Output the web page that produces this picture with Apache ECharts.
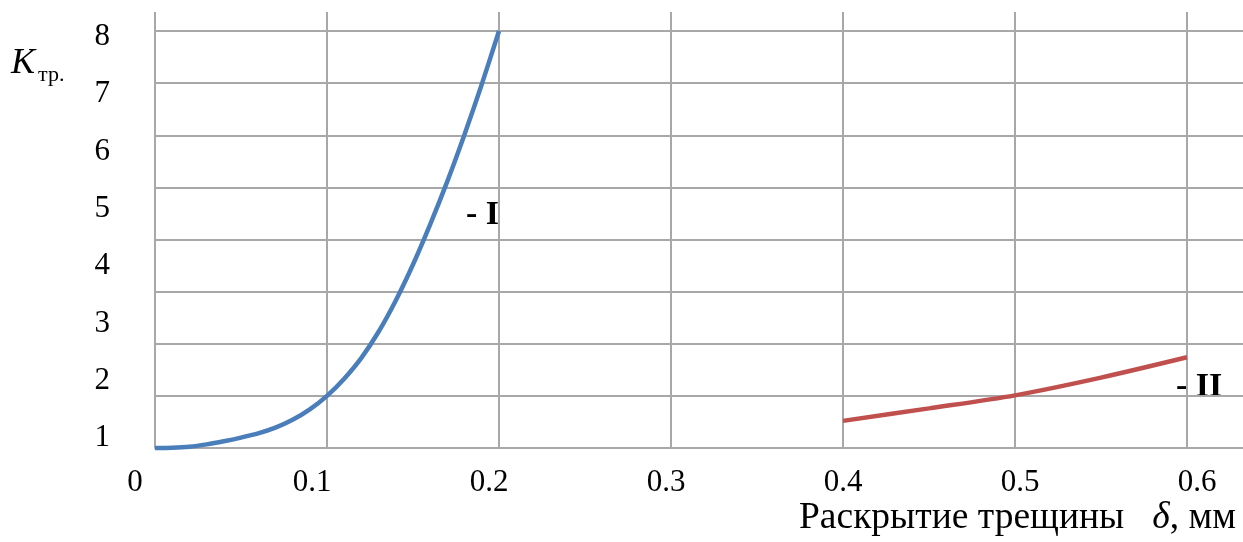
<!DOCTYPE html>
<html><head><meta charset="utf-8">
<script src="https://cdn.jsdelivr.net/npm/echarts@6/dist/echarts.min.js"></script>
<style>html,body{margin:0;padding:0;background:#fff}#c{width:1243px;height:542px}</style>
</head><body><div id="c"></div>
<script>
// Tick labels
const xTickValues = [0, 0.1, 0.2, 0.3, 0.4, 0.5, 0.6];
const yTickLabels = [1, 2, 3, 4, 5, 6, 7, 8];
// Curve I
const deltaI = [0, 0.01, 0.02, 0.03, 0.04, 0.05, 0.06, 0.07, 0.08, 0.09, 0.10, 0.11, 0.12, 0.13, 0.14, 0.15, 0.16, 0.17, 0.18, 0.19, 0.20];
const kI     = [0, 0.005, 0.025, 0.07, 0.13, 0.20, 0.28, 0.39, 0.54, 0.74, 1.00, 1.33, 1.73, 2.23, 2.83, 3.52, 4.29, 5.12, 6.02, 6.98, 8.00];
// Curve II
const deltaII = [0.40, 0.45, 0.50, 0.55, 0.60];
const kII     = [0.52, 0.76, 1.01, 1.35, 1.74];

const serif = '"Liberation Serif", "DejaVu Serif", serif';
const gridColor = '#a8a8a8';
const chart = echarts.init(document.getElementById('c'), null, {renderer: 'canvas'});

const hiddenX = (gi, min, max) => ({type: 'value', gridIndex: gi, min: min, max: max, show: false});
const hiddenY = (gi, min, max) => ({type: 'value', gridIndex: gi, min: min, max: max, show: false});

chart.setOption({
  animation: false,
  backgroundColor: '#ffffff',
  grid: [
    {left: 155, right: 56, top: 12, bottom: 94},   // 0: vertical grid lines
    {left: 155, right: 0, top: 31, bottom: 94},    // 1: horizontal grid lines
    {left: 155, right: 56, top: 31, bottom: 94},   // 2: data
    {left: 155, right: 56, top: 37, bottom: 104},  // 3: y tick labels
    {left: 135, right: 46, top: 12, bottom: 94}    // 4: x tick labels
  ],
  xAxis: [
    {type: 'value', gridIndex: 0, min: 0, max: 0.6, interval: 0.1,
     axisLine: {show: true, lineStyle: {color: gridColor, width: 2}},
     axisTick: {show: false}, axisLabel: {show: false},
     splitLine: {show: true, lineStyle: {color: gridColor, width: 2}}},
    hiddenX(1, 0, 1),
    hiddenX(2, 0, 0.6),
    hiddenX(3, 0, 1),
    {type: 'value', gridIndex: 4, min: 0, max: 0.6, interval: 0.1,
     axisLine: {show: false}, axisTick: {show: false}, splitLine: {show: false},
     axisLabel: {show: true, margin: 19, color: '#000', fontFamily: serif, fontSize: 31,
       formatter: v => {
         const i = xTickValues.findIndex(t => Math.abs(t - v) < 1e-9);
         if (i < 0) return '';
         return xTickValues[i] === 0 ? '0' : xTickValues[i].toFixed(1);
       }}}
  ],
  yAxis: [
    hiddenY(0, 0, 1),
    {type: 'value', gridIndex: 1, min: 0, max: 8, interval: 1,
     axisLine: {show: false}, axisTick: {show: false}, axisLabel: {show: false},
     splitLine: {show: true, lineStyle: {color: gridColor, width: 2}}},
    hiddenY(2, 0, 8),
    {type: 'value', gridIndex: 3, min: yTickLabels[0], max: yTickLabels[yTickLabels.length - 1], interval: 1,
     axisLine: {show: false}, axisTick: {show: false}, splitLine: {show: false},
     axisLabel: {show: true, margin: 45, color: '#000', fontFamily: serif, fontSize: 31,
       formatter: v => yTickLabels.includes(v) ? String(v) : ''}},
    hiddenY(4, 0, 1)
  ],
  series: [
    {type: 'line', xAxisIndex: 2, yAxisIndex: 2, smooth: 0.3,
     showSymbol: false, symbol: 'none', clip: false,
     lineStyle: {color: '#4a7ebb', width: 4.5}, itemStyle: {color: '#4a7ebb'},
     data: deltaI.map((x, i) => [x, kI[i]])},
    {type: 'line', xAxisIndex: 2, yAxisIndex: 2, smooth: 0.3,
     showSymbol: false, symbol: 'none', clip: false,
     lineStyle: {color: '#c0504d', width: 4.5}, itemStyle: {color: '#c0504d'},
     data: deltaII.map((x, i) => [x, kII[i]])}
  ],
  graphic: [
    {type: 'text', left: 11, top: 46, style: {text: 'K', font: 'italic 36px ' + serif, fill: '#000'}},
    {type: 'text', left: 38, top: 64, style: {text: 'тр.', font: '22px ' + serif, fill: '#000'}},
    {type: 'text', right: 7, top: 499, style: {
      text: 'Раскрытие трещины   {i|δ}, мм', font: '37.5px ' + serif, fill: '#000',
      rich: {i: {font: 'italic 37.5px ' + serif, fill: '#000'}}}},
    {type: 'text', left: 466, top: 198, style: {text: '- I', font: 'bold 34px ' + serif, fill: '#000'}},
    {type: 'text', left: 1176, top: 370, style: {text: '- II', font: 'bold 34px ' + serif, fill: '#000'}}
  ]
});
</script>
</body></html>
